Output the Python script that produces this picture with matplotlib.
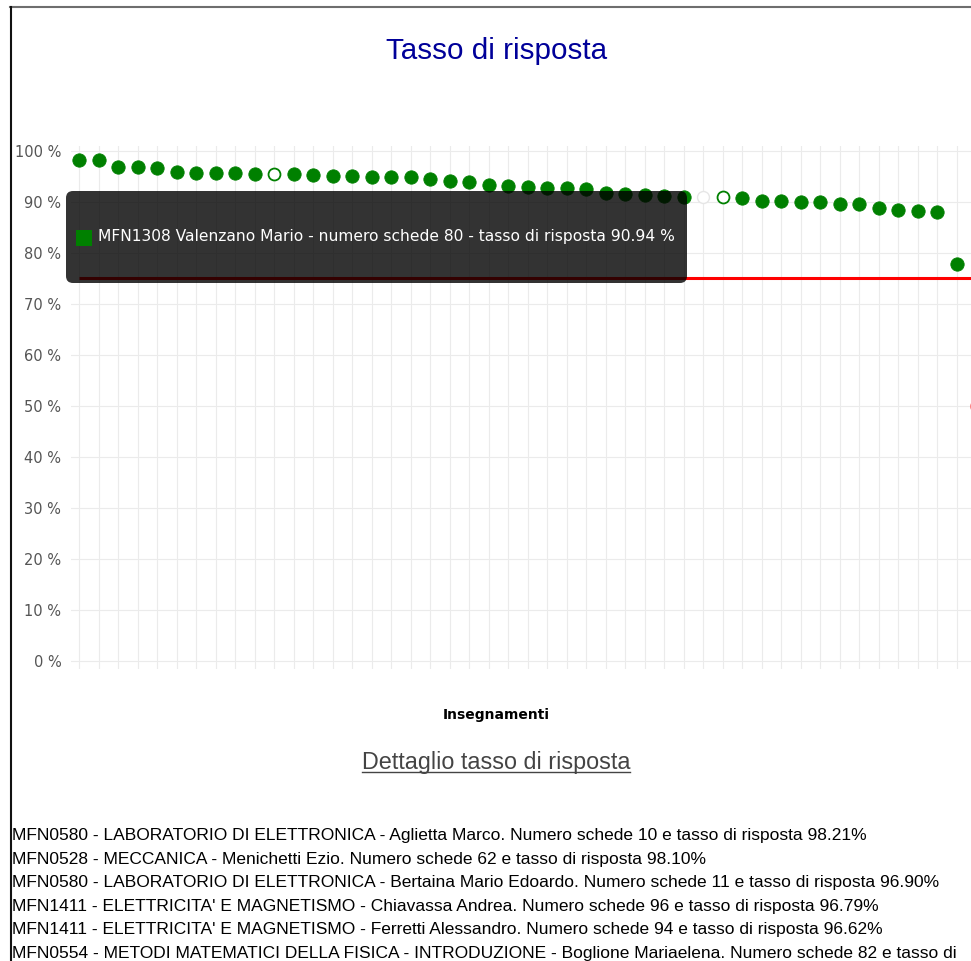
import matplotlib
matplotlib.use("Agg")
import matplotlib.pyplot as plt
from matplotlib.patches import FancyBboxPatch, Rectangle
from matplotlib.lines import Line2D
from matplotlib.transforms import IdentityTransform
import numpy as np

# ---------------- data ----------------
chart_title = "Tasso di risposta"
x_axis_label = "Insegnamenti"
detail_title = "Dettaglio tasso di risposta"

response_rates = [98.21, 98.10, 96.90, 96.79, 96.62, 95.75, 95.70, 95.60, 95.55, 95.50,
                  95.45, 95.40, 95.20, 95.10, 95.00, 94.90, 94.85, 94.75, 94.40, 94.10,
                  93.80, 93.30, 93.10, 92.80, 92.70, 92.60, 92.45, 91.80, 91.50, 91.40,
                  91.10, 90.94, 90.94, 90.90, 90.70, 90.20, 90.10, 90.00, 89.90, 89.55,
                  89.50, 88.80, 88.40, 88.10, 87.90, 77.80]
open_points = [10, 33]      # points drawn hollow
blank_points = [32]         # highlighted (white) point
threshold_value = 75
other_series_x = [46]
other_series_y = [50]

y_ticks = list(range(0, 101, 10))
y_tick_labels = [f"{v} %" for v in y_ticks]

tooltip_text = "MFN1308 Valenzano Mario - numero schede 80 - tasso di risposta 90.94 %"

detail_lines = [
    "MFN0580 - LABORATORIO DI ELETTRONICA - Aglietta Marco. Numero schede 10 e tasso di risposta 98.21%",
    "MFN0528 - MECCANICA - Menichetti Ezio. Numero schede 62 e tasso di risposta 98.10%",
    "MFN0580 - LABORATORIO DI ELETTRONICA - Bertaina Mario Edoardo. Numero schede 11 e tasso di risposta 96.90%",
    "MFN1411 - ELETTRICITA' E MAGNETISMO - Chiavassa Andrea. Numero schede 96 e tasso di risposta 96.79%",
    "MFN1411 - ELETTRICITA' E MAGNETISMO - Ferretti Alessandro. Numero schede 94 e tasso di risposta 96.62%",
    "MFN0554 - METODI MATEMATICI DELLA FISICA - INTRODUZIONE - Boglione Mariaelena. Numero schede 82 e tasso di",
]

# ---------------- figure ----------------
W, H, DPI = 971, 961, 100
fig = plt.figure(figsize=(W / DPI, H / DPI), dpi=DPI)
fig.patch.set_facecolor("white")
PX = IdentityTransform()

def Y(py):
    return H - py

sans = ["Liberation Sans", "DejaVu Sans"]

# axes geometry (pixels)
ax_left, ax_right, ax_top, ax_bottom = 71, 990, 145.6, 669
ax = fig.add_axes([ax_left / W, 1 - ax_bottom / H,
                   (ax_right - ax_left) / W, (ax_bottom - ax_top) / H])
step = 19.511
x0_px = 79
n = len(response_rates)
xs = np.arange(n)
ys = np.array(response_rates)

ax.set_xlim((ax_left - x0_px) / step, (ax_right - x0_px) / step)
ax.set_ylim(-1.57, 101.0)
ax.set_xticks(np.arange(0, n + 1))
ax.set_yticks(y_ticks)
ax.set_yticklabels(y_tick_labels)
ax.tick_params(axis="x", length=0, labelbottom=False)
ax.tick_params(axis="y", length=0, labelsize=10.5, labelcolor="#555555", pad=7)
for s in ax.spines.values():
    s.set_visible(False)
ax.grid(True, color="#ebebeb", linewidth=0.8)
ax.set_axisbelow(True)

# threshold line
ax.plot([xs[0], n + 1], [threshold_value, threshold_value], color="#ff0000",
        linewidth=2.2, zorder=2, solid_capstyle="butt")

# points
filled = [i for i in range(n) if i not in open_points and i not in blank_points]
ms = 9.6
ax.plot(xs[filled], ys[filled], "o", color="#008000", markersize=ms,
        markeredgewidth=0.6, zorder=3)
ax.plot(xs[open_points], ys[open_points], "o", markerfacecolor="white",
        markeredgecolor="#008000", markersize=ms - 1, markeredgewidth=1.3, zorder=3)
ax.plot(xs[blank_points], ys[blank_points], "o", markerfacecolor="white",
        markeredgecolor="#e6e6e6", markersize=ms - 1, markeredgewidth=1.0, zorder=3)
ax.plot(other_series_x, other_series_y, "o", color="#ff7777", markersize=ms, zorder=3)

# frame of the page
fig.add_artist(Line2D([10, W], [Y(7), Y(7)], transform=PX, color="#6e6e6e", linewidth=1.5))
fig.add_artist(Line2D([11, 11], [0, Y(7)], transform=PX, color="#111111", linewidth=1.5))

# tooltip
tip = FancyBboxPatch((66, Y(283)), 687 - 66, 283 - 191,
                     boxstyle="round,pad=0,rounding_size=7", transform=PX,
                     facecolor="black", alpha=0.8, edgecolor="none", zorder=5)
fig.add_artist(tip)
fig.add_artist(Rectangle((76, Y(246)), 16, 16, transform=PX, facecolor="#008000",
                         edgecolor="none", zorder=6))
t_tip = fig.text(98, Y(237), tooltip_text, transform=PX, color="white",
                 fontsize=10, va="center", ha="left", zorder=7)

# titles and texts
t_title = fig.text(497, Y(51), chart_title, transform=PX, color="#000099",
                   fontsize=21, family=sans, ha="center", va="center")
t_xl = fig.text(496, Y(715), x_axis_label, transform=PX, color="black",
                fontsize=10, fontweight="bold", ha="center", va="center")
t_det = fig.text(496, Y(769), detail_title, transform=PX, color="#444444",
                 fontsize=14, family=sans, ha="center", va="baseline")

t_lines = []
for k, line in enumerate(detail_lines):
    t_lines.append(fig.text(12, Y(840 + 23.6 * k), line, transform=PX, color="black",
                            fontsize=13, family=sans, ha="left", va="baseline"))

# fit text widths to the reference
fig.canvas.draw()
r = fig.canvas.get_renderer()

def fit(t, target):
    w = t.get_window_extent(r).width
    t.set_fontsize(t.get_fontsize() * target / w)

fit(t_tip, 579)
fit(t_title, 221)
fit(t_det, 270)
w0 = t_lines[0].get_window_extent(r).width
scale = 851 / w0
for t in t_lines:
    t.set_fontsize(t.get_fontsize() * scale)

fig.canvas.draw()
bb = t_det.get_window_extent(r)
fig.add_artist(Line2D([bb.x0, bb.x1], [Y(772), Y(772)], transform=PX,
                      color="#444444", linewidth=1.0))

fig.savefig("out.png", dpi=DPI)
